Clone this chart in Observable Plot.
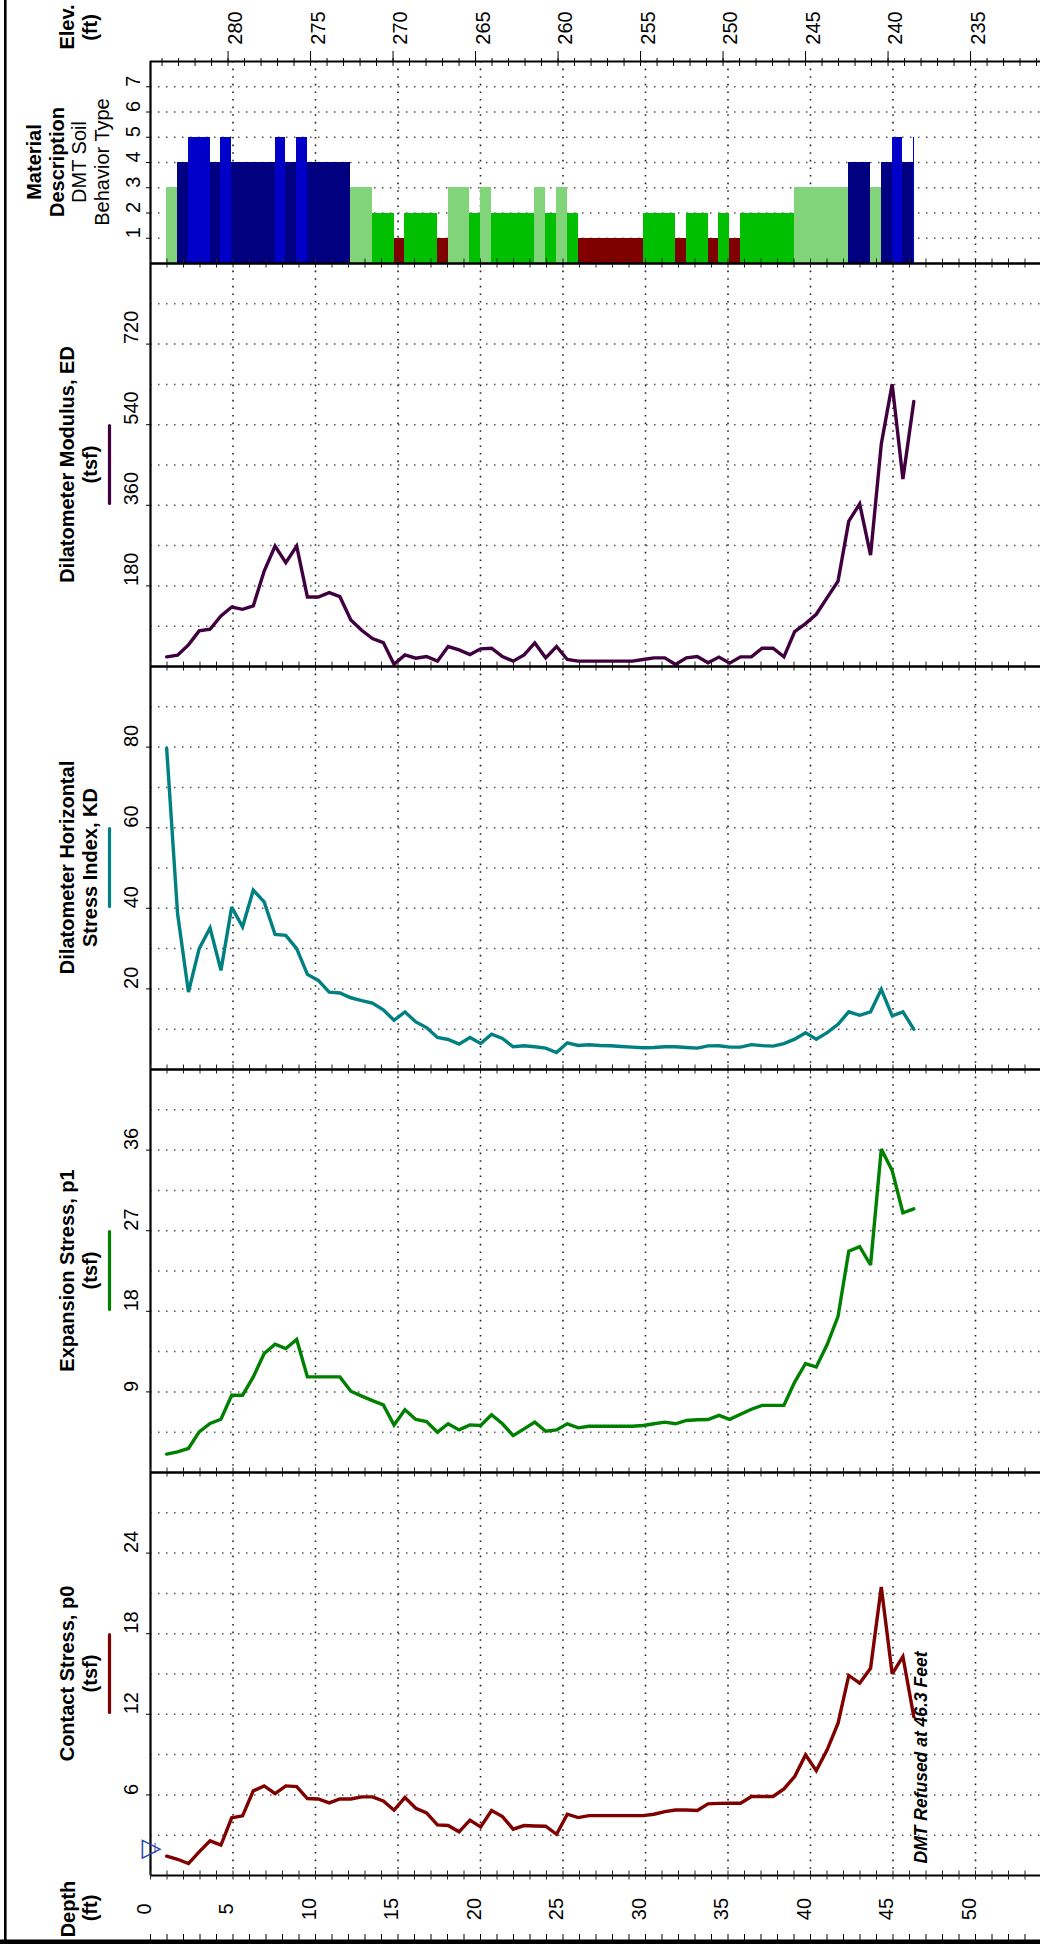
<!DOCTYPE html>
<html><head><meta charset="utf-8">
<script src="https://cdn.jsdelivr.net/npm/d3@7"></script>
<script src="https://cdn.jsdelivr.net/npm/@observablehq/plot@0.6"></script>
<style>
html,body{margin:0;padding:0;background:#fff;}
#chart{position:relative;width:1040px;height:1944px;overflow:hidden;font-family:"Liberation Sans",Arial,sans-serif;background:#fff;}
#chart svg{position:absolute;left:0;}
</style></head><body><div id="chart"></div>
<script>
// ---- data (depth in ft) ----
const depth = [0.98,1.64,2.30,2.95,3.61,4.27,4.92,5.58,6.23,6.89,
  7.55,8.20,8.86,9.51,10.17,10.83,11.48,12.14,12.80,13.45,
  14.11,14.76,15.42,16.08,16.73,17.39,18.04,18.70,19.36,20.01,
  20.67,21.33,21.98,22.64,23.29,23.95,24.61,25.26,25.92,26.57,
  27.23,27.89,28.54,29.20,29.86,30.51,31.17,31.82,32.48,33.14,
  33.79,34.45,35.10,35.76,36.42,37.07,37.73,38.39,39.04,39.70,
  40.35,41.01,41.67,42.32,42.98,43.64,44.29,44.95,45.60,46.26];
const sbt = [3,4,5,5,4,5,4,4,4,4, 5,4,5,4,4,4,4,3,3,2, 2,1,2,2,2,1,3,3,2,3,
  2,2,2,2,3,2,3,2,1,1, 1,1,1,1,2,2,2,1,2,2, 1,2,1,2,2,2,2,2,3,3, 3,3,3,4,4,3,4,5,4,5];
const ed = [21.5,25.2,48.3,79.5,83.2,112.9,132.9,127.7,135.2,213.1,
  268.8,231.7,268.8,155.2,155.2,164.9,155.9,104,80.9,62.4,
  53.5,5,26,18.6,22.3,11.9,44.6,37.1,26.7,39.4,
  40.8,22.3,11.9,26,52.7,19.3,44.6,15.6,11.9,11.9,
  11.9,11.9,11.9,11.9,15.6,19.3,19.3,4.5,19.3,22.3,
  8.5,21,7.5,21.5,21.5,40.8,40.8,21.5,78,95.8,
  116.6,153.7,190.8,324.5,363.1,248.8,496.8,630.5,418.8,591.8];
const kd = [79.7,38.7,19.2,30.0,35.1,24.6,40.3,35.4,44.5,41.6,
  33.5,33.3,30.0,23.6,22.1,19.2,19.0,17.8,17.1,16.5,
  14.8,12.2,14.3,11.8,10.4,7.95,7.45,6.3,7.95,6.46,
  8.78,7.7,5.63,5.88,5.63,5.3,4.22,6.63,5.96,6.13,
  5.96,5.88,5.71,5.55,5.38,5.47,5.63,5.63,5.47,5.3,
  5.85,5.9,5.56,5.56,6.17,5.93,5.8,6.42,7.53,9.14,
  7.53,9.14,11.23,14.32,13.46,14.32,19.88,13.33,14.32,10.0];
const p1 = [2.05,2.31,2.68,4.54,5.47,5.95,8.63,8.63,10.68,13.29,
  14.33,13.84,14.85,10.68,10.68,10.68,10.68,9.08,8.53,8.03,
  7.55,5.3,7.01,5.92,5.70,4.50,5.44,4.76,5.32,5.25,
  6.45,5.44,4.12,4.87,5.62,4.61,4.76,5.44,4.99,5.17,
  5.17,5.17,5.17,5.17,5.25,5.44,5.62,5.44,5.81,5.89,
  5.92,6.38,5.94,6.5,7.06,7.5,7.5,7.5,10.1,12.17,
  11.78,14.28,17.44,24.72,25.22,23.17,36.11,33.72,29.0,29.44];
const p0 = [1.44,1.21,0.89,1.76,2.58,2.26,4.29,4.44,6.30,6.67,
  6.10,6.67,6.62,5.73,5.70,5.41,5.70,5.70,5.85,5.85,
  5.55,4.86,5.80,5.01,4.66,3.77,3.72,3.25,4.12,3.62,
  4.84,4.39,3.45,3.72,3.69,3.67,3.07,4.56,4.31,4.46,
  4.46,4.46,4.46,4.46,4.46,4.56,4.76,4.88,4.88,4.84,
  5.33,5.37,5.38,5.38,5.88,5.88,5.88,6.45,7.37,8.98,
  7.81,9.35,11.34,14.89,14.32,15.43,21.47,15.01,16.30,11.83];
const refusalDepth = 46.3;
const groundElev = 284.7;
const waterMarkP0 = 2.1;

// ---- tick labels ----
const elevLabels = [280,275,270,265,260,255,250,245,240,235];
const depthLabels = [0,5,10,15,20,25,30,35,40,45,50];
const sbtLabels = [1,2,3,4,5,6,7];
const edLabels = [180,360,540,720];
const kdLabels = [20,40,60,80];
const p1Labels = [9,18,27,36];
const p0Labels = [6,12,18,24];
const edGrid = [90,180,270,360,450,540,630,720,810];
const kdGrid = [10,20,30,40,50,60,70,80,90];
const p1Grid = [4.5,9,13.5,18,22.5,27,31.5,36,40.5];
const p0Grid = [3,6,9,12,15,18,21,24,27];
const depthGrid = [5,10,15,20,25,30,35,40,45,50];

const sbtColors = {1:"#800000", 2:"#00BE00", 3:"#82D47A", 4:"#000080", 5:"#0000C8"};
const colED = "#400040", colKD = "#008080", colP1 = "#008000", colP0 = "#800000";

const xMax = 54;
const minorDepth = d3.range(0, 54, 1);
const elevMinor = d3.range(231, 285, 1).map(e => groundElev - e);
const elevMajor = elevLabels.map(e => groundElev - e);

const chart = document.getElementById("chart");
const FONT = "Liberation Sans, Arial, sans-serif";

function common(gridVals) {
  return [
    Plot.gridX({ticks: depthGrid, stroke: "#222", strokeOpacity: 1, strokeWidth: 1.6, strokeDasharray: "1.6,6"}),
    Plot.gridY({ticks: gridVals, stroke: "#555", strokeOpacity: 1, strokeWidth: 1.5, strokeDasharray: "1.5,6.5"}),
  ];
}
function frameMarks(yMax, labels, labelDx) {
  return [
    Plot.ruleY([0], {stroke: "#000", strokeWidth: 1.8}),
    Plot.ruleY([yMax], {stroke: "#000", strokeWidth: 1.8}),
    Plot.ruleX([0], {stroke: "#000", strokeWidth: 2.2}),
    Plot.axisX({anchor: "bottom", ticks: minorDepth, tickSize: 9, dy: -4.5, tickFormat: () => "", label: null, stroke: "#222"}),
    Plot.axisY({anchor: "left", ticks: labels, tickSize: 4, tickFormat: () => "", label: null}),
    Plot.text(labels, {y: d => d, frameAnchor: "left", dx: labelDx, rotate: -90, text: d => String(d), fontSize: 20, fill: "#000"})
  ];
}
function makePanel(top, frameH, mt, mb, yMax, marks) {
  const svg = Plot.plot({
    width: 1040, height: mt + frameH + mb,
    marginTop: mt, marginBottom: mb, marginLeft: 150, marginRight: 0,
    style: {background: "transparent", overflow: "visible", fontFamily: FONT, fontSize: "20px", color: "#000"},
    x: {domain: [0, xMax], range: [150, 150 + xMax * 16.5]},
    y: {domain: [0, yMax]},
    color: {type: "identity"},
    marks
  });
  svg.style.top = (top - mt) + "px";
  chart.appendChild(svg);
  return svg;
}
const rows = arr => depth.map((d, i) => ({depth: d, v: arr[i]}));
const lineOpts = c => ({x: "depth", y: "v", stroke: c, strokeWidth: 3.4, strokeLinejoin: "miter", strokeMiterlimit: 3});

// SBT panel
const sbtRows = depth.map((d, i) => ({d1: d, d2: i < depth.length - 1 ? depth[i + 1] : refusalDepth, s: sbt[i]}));
makePanel(61, 202, 61, 0, 8, [
  ...common(sbtLabels),
  Plot.rect(sbtRows, {x1: "d1", x2: "d2", y1: 0, y2: "s", fill: d => sbtColors[d.s], shapeRendering: "crispEdges"}),
  ...frameMarks(8, sbtLabels, -17),
  Plot.axisX({anchor: "top", ticks: elevMinor, tickSize: 8, dy: 4, tickFormat: () => "", label: null}),
  Plot.axisX({anchor: "top", ticks: elevMajor, tickSize: 11, tickFormat: () => "", label: null}),
  Plot.text(elevLabels, {x: e => groundElev - e, frameAnchor: "top", dy: -33.5, rotate: -90, text: e => String(e), fontSize: 20, fill: "#000"})
]);
// ED
makePanel(263, 403, 0, 0, 900, [
  ...common(edGrid),
  Plot.line(rows(ed), lineOpts(colED)),
  ...frameMarks(900, edLabels, -19)
]);
// KD
makePanel(666, 403, 0, 0, 100, [
  ...common(kdGrid),
  Plot.line(rows(kd), lineOpts(colKD)),
  ...frameMarks(100, kdLabels, -19)
]);
// p1
makePanel(1069, 403, 0, 0, 45, [
  ...common(p1Grid),
  Plot.line(rows(p1), lineOpts(colP1)),
  ...frameMarks(45, p1Labels, -19)
]);
// p0
makePanel(1472, 403, 0, 69, 30, [
  ...common(p0Grid),
  Plot.line(rows(p0), lineOpts(colP0)),
  ...frameMarks(30, p0Labels, -19),
  Plot.text(depthLabels, {x: d => d, frameAnchor: "bottom", dy: 33.5, rotate: -90, text: d => String(d), fontSize: 20, fill: "#000"}),
  Plot.axisX({anchor: "bottom", ticks: minorDepth, tickSize: 6, dy: 59, tickFormat: () => "", label: null}),
  Plot.text([refusalDepth], {x: d => d, frameAnchor: "bottom", dx: 12.5, dy: -12, rotate: -90, textAnchor: "start",
    text: () => "DMT Refused at 46.3 Feet", fontSize: 17.5, fontWeight: "bold", fontStyle: "italic", fill: "#000"}),
  Plot.text([waterMarkP0], {y: d => d, frameAnchor: "left", dx: -9, text: () => "▷", fontSize: 26, fill: "#2c3fb5", fontFamily: "DejaVu Sans"}),
  Plot.text([waterMarkP0], {y: d => d, frameAnchor: "left", dx: 3, text: () => "|", fontSize: 11, fill: "#2c3fb5"})
]);

// ---- overlay: titles, legend swatches, outer border ----
const ov = d3.select(chart).append("svg").attr("width", 1040).attr("height", 1944)
  .style("top", "0px").style("pointer-events", "none").style("font-family", FONT);
function vtext(x, y, s, bold) {
  ov.append("text").attr("transform", `translate(${x},${y}) rotate(-90)`)
    .attr("text-anchor", "middle").attr("dominant-baseline", "central")
    .attr("font-size", 20).attr("font-weight", bold ? "bold" : "normal").attr("fill", "#000").text(s);
}
function swatch(cy, c) {
  ov.append("line").attr("x1", 109.5).attr("x2", 109.5).attr("y1", cy - 39).attr("y2", cy + 39)
    .attr("stroke", c).attr("stroke-width", 3.2).attr("stroke-linecap", "round");
}
vtext(67, 27, "Elev.", true); vtext(90, 27.5, "(ft)", true);
vtext(34, 162, "Material", true); vtext(56.5, 162, "Description", true);
vtext(79, 162, "DMT Soil", false); vtext(101.5, 162, "Behavior Type", false);
vtext(67, 464.5, "Dilatometer Modulus, ED", true); vtext(90, 464.5, "(tsf)", true); swatch(464.5, colED);
vtext(67, 867.5, "Dilatometer Horizontal", true); vtext(90, 867.5, "Stress Index, KD", true); swatch(867.5, colKD);
vtext(67, 1270.5, "Expansion Stress, p1", true); vtext(90, 1270.5, "(tsf)", true); swatch(1270.5, colP1);
vtext(67, 1673.5, "Contact Stress, p0", true); vtext(90, 1673.5, "(tsf)", true); swatch(1673.5, colP0);
vtext(68, 1909, "Depth", true); vtext(90, 1908, "(ft)", true);
ov.append("line").attr("x1", 5.3).attr("x2", 5.3).attr("y1", 0).attr("y2", 1944).attr("stroke", "#000").attr("stroke-width", 2.6);
ov.append("rect").attr("x", 0).attr("y", 1939.5).attr("width", 1040).attr("height", 4.5).attr("fill", "#000");
</script></body></html>
